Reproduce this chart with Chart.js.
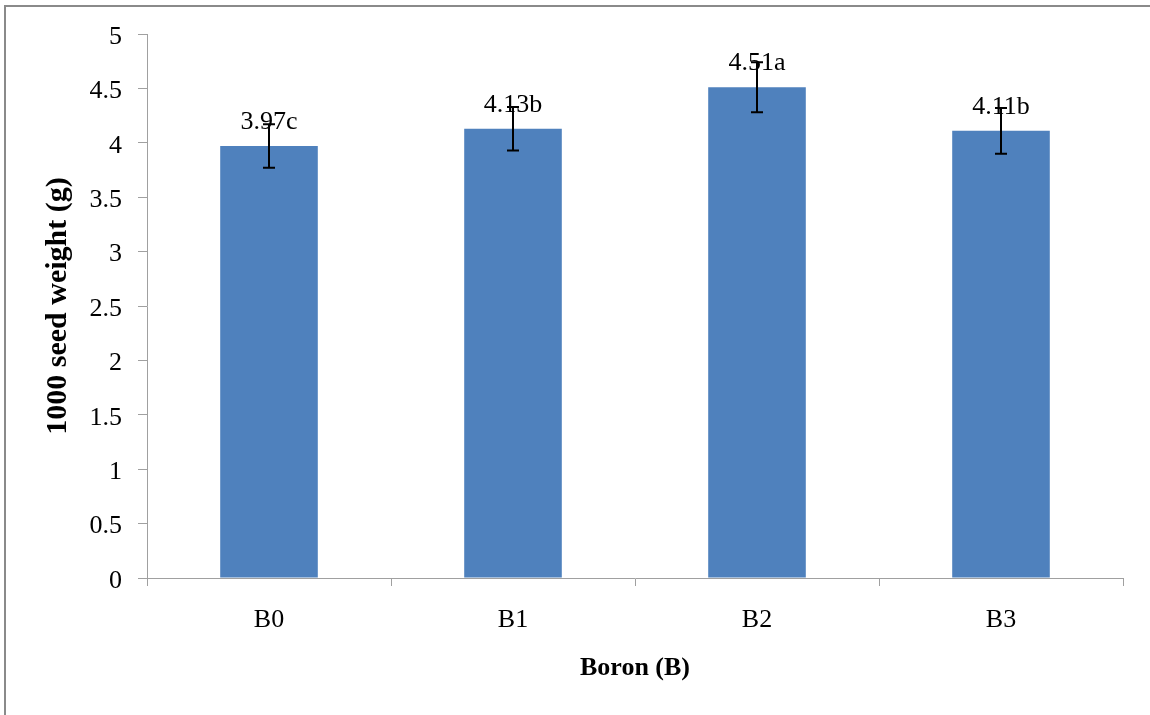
<!DOCTYPE html>
<html>
<head>
<meta charset="utf-8">
<title>1000 seed weight by boron level</title>
<script src="https://cdn.jsdelivr.net/npm/chart.js@4.4.1/dist/chart.umd.min.js"></script>
<style>
  html, body { margin: 0; padding: 0; background: #ffffff; }
  #wrap { position: relative; width: 1150px; height: 715px; }
</style>
</head>
<body>
<div id="wrap"><canvas id="chart" width="1150" height="715"></canvas></div>
<script>
// Boron treatments and mean 1000-seed weight (g)
const categories = ['B0', 'B1', 'B2', 'B3'];
const seedWeight = [3.97, 4.13, 4.51, 4.11];
const errorMargin = [0.20, 0.20, 0.23, 0.21];
const significance = ['c', 'b', 'a', 'b'];
const yTicks = [0, 0.5, 1, 1.5, 2, 2.5, 3, 3.5, 4, 4.5, 5];

const SERIF = '"Liberation Serif", "Times New Roman", serif';

// Grey frame along the top and left edge of the figure
const framePlugin = {
  id: 'frame',
  beforeDraw(chart) {
    const ctx = chart.ctx;
    ctx.save();
    ctx.strokeStyle = '#8a8a8a';
    ctx.lineWidth = 2;
    ctx.beginPath();
    ctx.moveTo(5, chart.height);
    ctx.lineTo(5, 6);
    ctx.lineTo(chart.width, 6);
    ctx.stroke();
    ctx.restore();
  }
};

// Value labels with letters of significance, then the error bars over them
const annotatePlugin = {
  id: 'annotate',
  afterDatasetsDraw(chart) {
    const ctx = chart.ctx;
    const y = chart.scales.y;
    const meta = chart.getDatasetMeta(0);
    ctx.save();
    ctx.font = '26px ' + SERIF;
    ctx.fillStyle = '#000000';
    ctx.textAlign = 'center';
    ctx.textBaseline = 'alphabetic';
    meta.data.forEach((bar, i) => {
      const top = y.getPixelForValue(seedWeight[i]);
      ctx.fillText(seedWeight[i].toFixed(2) + significance[i], bar.x, top - 17);
    });
    ctx.strokeStyle = '#000000';
    ctx.lineWidth = 2;
    meta.data.forEach((bar, i) => {
      const hi = y.getPixelForValue(seedWeight[i] + errorMargin[i]);
      const lo = y.getPixelForValue(seedWeight[i] - errorMargin[i]);
      ctx.beginPath();
      ctx.moveTo(bar.x, hi);
      ctx.lineTo(bar.x, lo);
      ctx.moveTo(bar.x - 6, hi);
      ctx.lineTo(bar.x + 6, hi);
      ctx.moveTo(bar.x - 6, lo);
      ctx.lineTo(bar.x + 6, lo);
      ctx.stroke();
    });
    ctx.restore();
  }
};

new Chart(document.getElementById('chart'), {
  type: 'bar',
  data: {
    labels: categories,
    datasets: [{
      data: seedWeight,
      backgroundColor: '#4f81bd',
      borderWidth: 0,
      categoryPercentage: 1.0,
      barPercentage: 0.4
    }]
  },
  options: {
    responsive: false,
    animation: false,
    events: [],
    layout: { padding: { left: 0, top: 34, right: 27, bottom: 0 } },
    plugins: {
      legend: { display: false },
      tooltip: { enabled: false }
    },
    scales: {
      x: {
        afterFit(scale) { scale.height = 137; },
        border: { display: true, color: '#a0a0a0', width: 1 },
        grid: {
          display: true,
          offset: true,
          drawOnChartArea: false,
          drawTicks: true,
          tickLength: 8,
          color: '#a0a0a0'
        },
        ticks: {
          color: '#000000',
          font: { family: SERIF, size: 26 },
          padding: 19
        },
        title: {
          display: true,
          text: 'Boron (B)',
          color: '#000000',
          font: { family: SERIF, size: 26, weight: 'bold' },
          padding: { top: 0, bottom: 31 }
        }
      },
      y: {
        min: 0,
        max: 5,
        afterFit(scale) { scale.width = 147; },
        afterBuildTicks(scale) { scale.ticks = yTicks.map(v => ({ value: v })); },
        border: { display: true, color: '#a0a0a0', width: 1 },
        grid: {
          display: true,
          drawOnChartArea: false,
          drawTicks: true,
          tickLength: 9,
          color: '#a0a0a0'
        },
        ticks: {
          color: '#000000',
          font: { family: SERIF, size: 26 },
          padding: 16,
          labelOffset: 3,
          callback: (v) => String(v)
        },
        title: {
          display: true,
          text: '1000 seed weight (g)',
          color: '#000000',
          font: { family: SERIF, size: 30, weight: 'bold' },
          padding: { top: 40, bottom: 0 }
        }
      }
    }
  },
  plugins: [framePlugin, annotatePlugin]
});
</script>
</body>
</html>
